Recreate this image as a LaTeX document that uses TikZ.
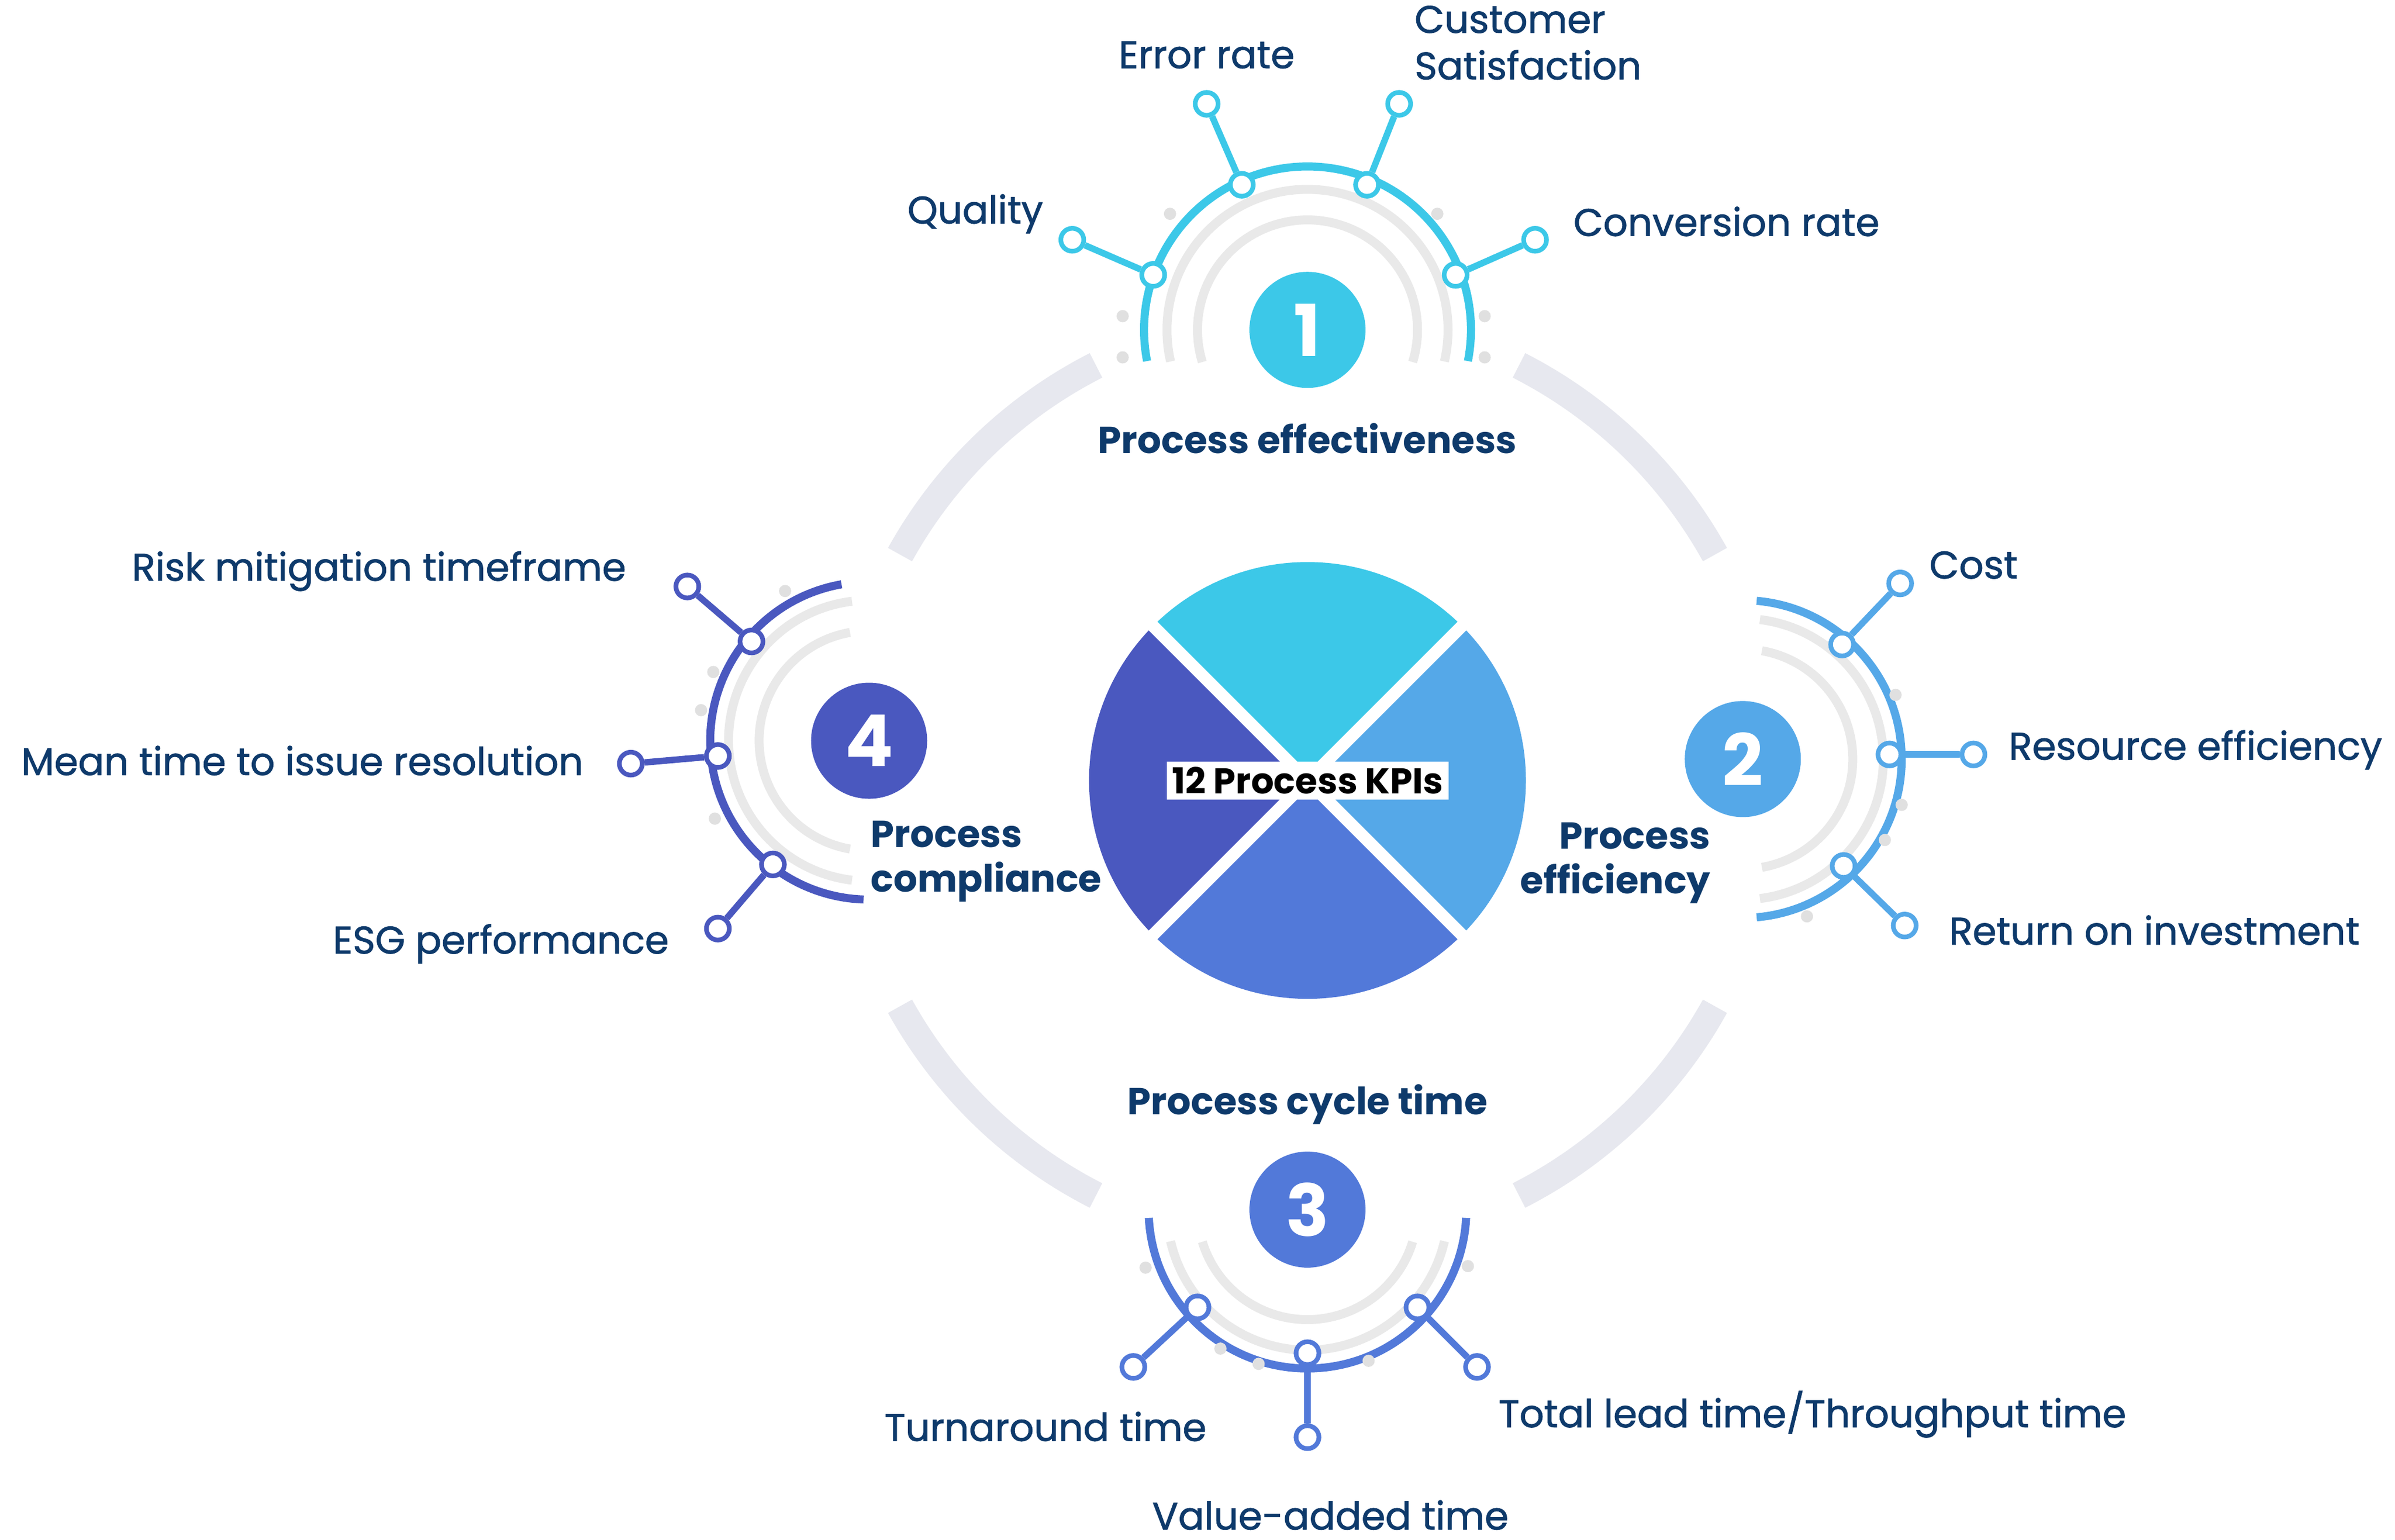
\documentclass[tikz,border=0pt]{standalone}
\usepackage{fontspec}
\setmainfont{Poppins}
\newfontfamily\medfont{Poppins}[FakeBold=1.2]
\begin{document}
\definecolor{cA}{HTML}{3CC8E8}
\definecolor{cB}{HTML}{55A8E8}
\definecolor{cC}{HTML}{5279D9}
\definecolor{cD}{HTML}{4A58BF}
\definecolor{tx}{HTML}{0E3A6B}
\definecolor{ring}{HTML}{E7E8EF}
\definecolor{dot}{HTML}{E0E0E0}
\begin{tikzpicture}[x=0.03cm,y=0.03cm,
  lab/.style={text=tx,font=\medfont\fontsize{21.5}{26}\selectfont},
  ttl/.style={text=tx,font=\fontsize{21}{25}\selectfont\bfseries,align=left},
  num/.style={circle,minimum size=76*0.03cm,inner sep=0,text=white,font=\fontsize{40}{40}\selectfont\bfseries},
  knob/.style={circle,draw=#1,fill=white,line width=2.6pt,minimum size=15*0.03cm,inner sep=0},
  stem/.style={line width=3.6pt,draw=#1},
  carc/.style={line width=4.5pt,draw=#1},
  garc/.style={line width=5pt,draw=dot!70},
  gdot/.style={circle,fill=dot,minimum size=8*0.03cm,inner sep=0}]
\useasboundingbox (0,0) rectangle (1568,1008);
\fill[white] (0,0) rectangle (1568,1008);
% main ring
\coordinate (M) at (856,497);
\foreach \a/\b in {29/63,117/151,209/243,297/331}
  \draw[ring,line width=18*0.03cm] ([shift={(\a:305)}]M) arc (\a:\b:305);
% pie
\fill[cA] (M) -- ++(45:143) arc (45:135:143) -- cycle;
\fill[cD] (M) -- ++(135:143) arc (135:225:143) -- cycle;
\fill[cC] (M) -- ++(225:143) arc (225:315:143) -- cycle;
\fill[cB] (M) -- ++(315:143) arc (315:405:143) -- cycle;
\draw[white,line width=8*0.03cm] ([shift={(45:150)}]M) -- ([shift={(225:150)}]M);
\draw[white,line width=8*0.03cm] ([shift={(135:150)}]M) -- ([shift={(315:150)}]M);
\node[fill=white,inner xsep=3pt,inner ysep=3pt,text=black,font=\fontsize{20}{24}\selectfont\bfseries] (kpi) at (M) {12 Process KPIs};
% ---------- group 1
\coordinate (G1) at (856,792);
\draw[garc] ([shift={(-17:72)}]G1) arc (-17:197:72);
\draw[garc] ([shift={(-13:92)}]G1) arc (-13:193:92);
\draw[carc=cA] ([shift={(-11:107)}]G1) arc (-11:191:107);
\node[num,fill=cA] (n1) at (G1) {1};
\foreach \p in {(766,868),(941,868),(735,801),(972,801),(735,774),(972,774)} \node[gdot] at \p {};
\node[knob=cA] (a1) at (755,828) {}; \node[knob=cA] (b1) at (702,851) {};
\node[knob=cA] (a2) at (813,887) {}; \node[knob=cA] (b2) at (790,940) {};
\node[knob=cA] (a3) at (895,887) {}; \node[knob=cA] (b3) at (916,940) {};
\node[knob=cA] (a4) at (953,828) {}; \node[knob=cA] (b4) at (1005,851) {};
\foreach \i in {1,...,4} \draw[stem=cA] (a\i) -- (b\i);
\node[lab,anchor=east] (l1) at (687,868) {Quality};
\node[lab] (l2) at (790,972) {Error rate};
\node[lab,anchor=west,align=left] (l3) at (922,980) {Customer\\Satisfaction};
\node[lab,anchor=west] (l4) at (1026,863) {Conversion rate};
\node[ttl] (t1) at (856,721) {Process effectiveness};
% ---------- group 2
\coordinate (G2) at (1141,511);
\draw[garc] ([shift={(-80:72)}]G2) arc (-80:80:72);
\draw[garc] ([shift={(-83:92)}]G2) arc (-83:83:92);
\draw[carc=cB] ([shift={(-85:104)}]G2) arc (-85:85:104);
\node[num,fill=cB] (n2) at (G2) {2};
\foreach \p in {(1241,553),(1245,481),(1234,458),(1183,408)} \node[gdot] at \p {};
\node[knob=cB] (c1) at (1206,586) {}; \node[knob=cB] (d1) at (1244,626) {};
\node[knob=cB] (c2) at (1237,514) {}; \node[knob=cB] (d2) at (1292,514) {};
\node[knob=cB] (c3) at (1207,441) {}; \node[knob=cB] (d3) at (1247,402) {};
\foreach \i in {1,...,3} \draw[stem=cB] (c\i) -- (d\i);
\node[lab,anchor=west] (m1) at (1259,638) {Cost};
\node[lab,anchor=west] (m2) at (1311,517) {Resource efficiency};
\node[lab,anchor=west] (m3) at (1272,399) {Return on investment};
\node[ttl,anchor=east,align=right] (t2) at (1124,443) {Process\\efficiency};
% ---------- group 3
\coordinate (G3) at (856,216);
\draw[garc] ([shift={(-163:72)}]G3) arc (-163:-17:72);
\draw[garc] ([shift={(-167:92)}]G3) arc (-167:-13:92);
\draw[carc=cC] ([shift={(-177:104)}]G3) arc (-177:-3:104);
\node[num,fill=cC] (n3) at (G3) {3};
\foreach \p in {(750,178),(799,125),(824,115),(896,117),(961,179)} \node[gdot] at \p {};
\node[knob=cC] (e1) at (784,152) {}; \node[knob=cC] (f1) at (742,113) {};
\node[knob=cC] (e2) at (856,122) {}; \node[knob=cC] (f2) at (856,67) {};
\node[knob=cC] (e3) at (928,152) {}; \node[knob=cC] (f3) at (967,113) {};
\foreach \i in {1,...,3} \draw[stem=cC] (e\i) -- (f\i);
\node[lab,anchor=east] (o1) at (794,74) {Turnaround time};
\node[lab] (o2) at (871,16) {Value-added time};
\node[lab,anchor=west] (o3) at (977,82) {Total lead time/Throughput time};
\node[ttl] (t3) at (856,285) {Process cycle time};
% ---------- group 4
\coordinate (G4) at (569,523);
\draw[garc] ([shift={(100:72)}]G4) arc (100:260:72);
\draw[garc] ([shift={(97:92)}]G4) arc (97:263:92);
\draw[carc=cD] ([shift={(100:104)}]G4) arc (100:268:104);
\node[num,fill=cD] (n4) at (G4) {4};
\foreach \p in {(514,621),(467,568),(459,543),(468,472)} \node[gdot] at \p {};
\node[knob=cD] (g1) at (492,588) {}; \node[knob=cD] (h1) at (450,624) {};
\node[knob=cD] (g2) at (470,513) {}; \node[knob=cD] (h2) at (413,508) {};
\node[knob=cD] (g3) at (506,442) {}; \node[knob=cD] (h3) at (470,400) {};
\foreach \i in {1,...,3} \draw[stem=cD] (g\i) -- (h\i);
\node[lab,anchor=east] (p1) at (414,634) {Risk mitigation timeframe};
\node[lab,anchor=east] (p2) at (386,510) {Mean time to issue resolution};
\node[lab,anchor=east] (p3) at (442,390) {ESG performance};
\node[ttl,anchor=west] (t4) at (566,444) {Process\\compliance};
\end{tikzpicture}
\end{document}
